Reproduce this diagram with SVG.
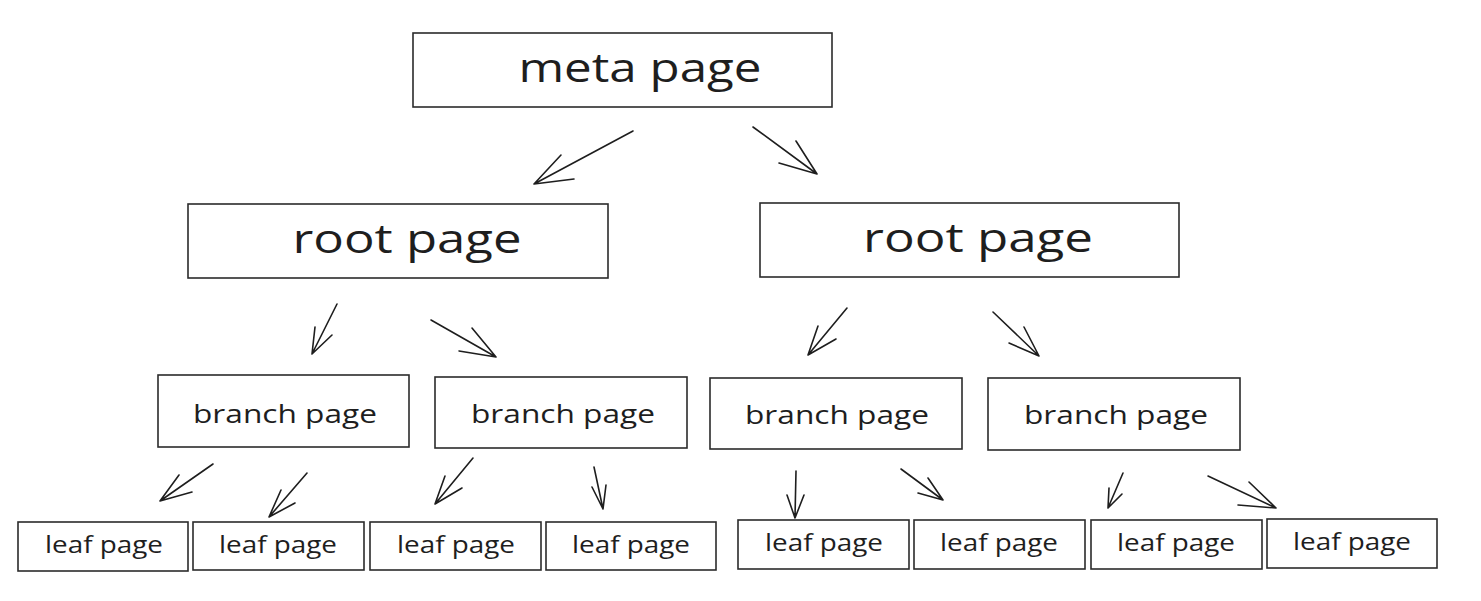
<svg xmlns="http://www.w3.org/2000/svg" width="1481" height="601" viewBox="0 0 1481 601">
<style>
  .box { fill: #ffffff; stroke: #2b2b2b; stroke-width: 1.6; }
  .t { font-family: "Open Sans", "Liberation Sans", sans-serif; fill: #1e1e1e; text-anchor: middle; }
  .big { font-size: 40px; }
  .mid { font-size: 26px; }
  .small { font-size: 24px; }
  .arr { fill: none; stroke: #1e1e1e; stroke-width: 1.6; stroke-linecap: round; stroke-linejoin: round; }
</style>
<rect x="0" y="0" width="1481" height="601" fill="#ffffff"/>
<g id="meta">
  <rect class="box" x="413" y="33" width="419" height="74"/>
  <text class="t big" x="640" y="82" textLength="243" lengthAdjust="spacingAndGlyphs">meta page</text>
</g>
<g id="root-left">
  <rect class="box" x="188" y="204" width="420" height="74"/>
  <text class="t big" x="407" y="253" textLength="229" lengthAdjust="spacingAndGlyphs">root page</text>
</g>
<g id="root-right">
  <rect class="box" x="760" y="203" width="419" height="74"/>
  <text class="t big" x="978" y="252" textLength="230" lengthAdjust="spacingAndGlyphs">root page</text>
</g>
<g id="branch-1">
  <rect class="box" x="158" y="375" width="251" height="72"/>
  <text class="t mid" x="285" y="423" textLength="184" lengthAdjust="spacingAndGlyphs">branch page</text>
</g>
<g id="branch-2">
  <rect class="box" x="435" y="377" width="252" height="71"/>
  <text class="t mid" x="563" y="423" textLength="184" lengthAdjust="spacingAndGlyphs">branch page</text>
</g>
<g id="branch-3">
  <rect class="box" x="710" y="378" width="252" height="71"/>
  <text class="t mid" x="837" y="424" textLength="184" lengthAdjust="spacingAndGlyphs">branch page</text>
</g>
<g id="branch-4">
  <rect class="box" x="988" y="378" width="252" height="72"/>
  <text class="t mid" x="1116" y="424" textLength="184" lengthAdjust="spacingAndGlyphs">branch page</text>
</g>
<g id="leaf-1">
  <rect class="box" x="18" y="522" width="170" height="49"/>
  <text class="t small" x="104" y="553" textLength="118" lengthAdjust="spacingAndGlyphs">leaf page</text>
</g>
<g id="leaf-2">
  <rect class="box" x="193" y="522" width="171" height="48"/>
  <text class="t small" x="278" y="553" textLength="118" lengthAdjust="spacingAndGlyphs">leaf page</text>
</g>
<g id="leaf-3">
  <rect class="box" x="370" y="522" width="171" height="48"/>
  <text class="t small" x="456" y="553" textLength="118" lengthAdjust="spacingAndGlyphs">leaf page</text>
</g>
<g id="leaf-4">
  <rect class="box" x="546" y="522" width="170" height="48"/>
  <text class="t small" x="631" y="553" textLength="118" lengthAdjust="spacingAndGlyphs">leaf page</text>
</g>
<g id="leaf-5">
  <rect class="box" x="738" y="520" width="171" height="49"/>
  <text class="t small" x="824" y="551" textLength="118" lengthAdjust="spacingAndGlyphs">leaf page</text>
</g>
<g id="leaf-6">
  <rect class="box" x="914" y="520" width="171" height="49"/>
  <text class="t small" x="999" y="551" textLength="118" lengthAdjust="spacingAndGlyphs">leaf page</text>
</g>
<g id="leaf-7">
  <rect class="box" x="1091" y="520" width="171" height="49"/>
  <text class="t small" x="1176" y="551" textLength="118" lengthAdjust="spacingAndGlyphs">leaf page</text>
</g>
<g id="leaf-8">
  <rect class="box" x="1267" y="519" width="170" height="49"/>
  <text class="t small" x="1352" y="550" textLength="118" lengthAdjust="spacingAndGlyphs">leaf page</text>
</g>
<g id="connectors">
  <path class="arr" d="M633,131 L534,184 M561,155 L534,184 L574,179"/>
  <path class="arr" d="M753,127 L817,174 M796,141 L817,174 L779,163"/>
  <path class="arr" d="M337,304 L312,354 M332,335 L312,354 L315,327"/>
  <path class="arr" d="M431,320 L496,357 M472,328 L496,357 L459,351"/>
  <path class="arr" d="M847,308 L808,355 M818,326 L808,355 L836,339"/>
  <path class="arr" d="M993,312 L1039,356 M1024,327 L1039,356 L1009,343"/>
  <path class="arr" d="M213,464 L160,501 M179,475 L160,501 L192,492"/>
  <path class="arr" d="M307,473 L269,517 M281,490 L269,517 L295,503"/>
  <path class="arr" d="M473,458 L435,504 M445,476 L435,504 L462,488"/>
  <path class="arr" d="M594,467 L603,509 M592,487 L603,509 L606,485"/>
  <path class="arr" d="M796,471 L795,518 M787,495 L795,518 L804,495"/>
  <path class="arr" d="M901,469 L943,500 M928,478 L943,500 L918,493"/>
  <path class="arr" d="M1123,473 L1108,508 M1109,488 L1108,508 L1122,494"/>
  <path class="arr" d="M1208,476 L1276,508 M1249,482 L1276,508 L1238,505"/>
</g>
</svg>
